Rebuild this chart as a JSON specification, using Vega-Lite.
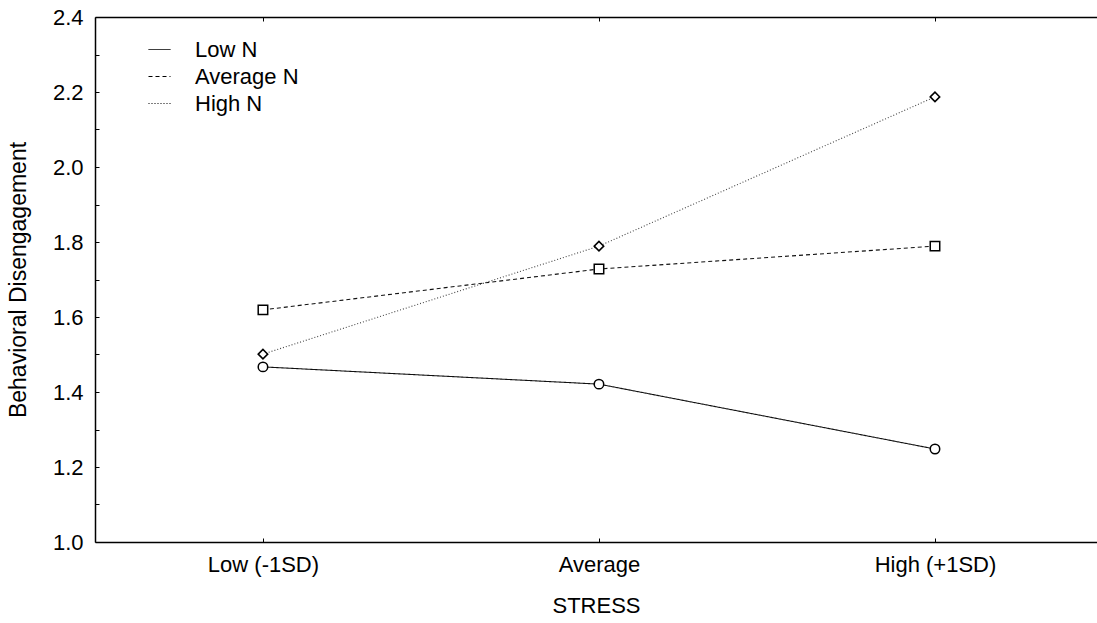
{
  "$schema": "https://vega.github.io/schema/vega-lite/v6.json",
  "width": 1002,
  "height": 525,
  "autosize": {"type": "none"},
  "padding": {"left": 95, "top": 17, "right": 0, "bottom": 81},
  "background": "white",
  "config": {
    "view": {"stroke": null},
    "font": "Liberation Sans",
    "axis": {
      "labelFont": "Liberation Sans",
      "labelFontSize": 22,
      "labelColor": "black",
      "titleFont": "Liberation Sans",
      "titleFontSize": 22,
      "titleFontWeight": "normal",
      "titleColor": "black",
      "domainColor": "black",
      "domainWidth": 1.5,
      "tickColor": "black",
      "tickWidth": 1,
      "grid": false
    },
    "legend": {
      "labelFont": "Liberation Sans",
      "labelFontSize": 22,
      "labelColor": "black"
    }
  },
  "data": {
    "values": [
      {"stress": "Low (-1SD)", "group": "Low N", "value": 1.467},
      {"stress": "Average", "group": "Low N", "value": 1.421},
      {"stress": "High (+1SD)", "group": "Low N", "value": 1.248},
      {"stress": "Low (-1SD)", "group": "Average N", "value": 1.619},
      {"stress": "Average", "group": "Average N", "value": 1.728},
      {"stress": "High (+1SD)", "group": "Average N", "value": 1.789},
      {"stress": "Low (-1SD)", "group": "High N", "value": 1.501},
      {"stress": "Average", "group": "High N", "value": 1.789},
      {"stress": "High (+1SD)", "group": "High N", "value": 2.187}
    ]
  },
  "layer": [
    {
      "mark": {"type": "line", "strokeWidth": 1.1},
      "encoding": {
        "x": {
          "field": "stress",
          "type": "ordinal",
          "sort": ["Low (-1SD)", "Average", "High (+1SD)"],
          "scale": {"type": "point", "padding": 0.491, "align": 0.509},
          "axis": {
            "orient": "bottom",
            "title": "STRESS",
            "labelAngle": 0,
            "tickSize": -4,
            "labelPadding": 16,
            "titlePadding": 20
          }
        },
        "y": {
          "field": "value",
          "type": "quantitative",
          "scale": {"domain": [1.0, 2.4], "nice": false, "zero": false},
          "axis": {
            "title": "Behavioral Disengagement",
            "titleFontSize": 23,
            "values": [1.0, 1.1, 1.2, 1.3, 1.4, 1.5, 1.6, 1.7, 1.8, 1.9, 2.0, 2.1, 2.2, 2.3, 2.4],
            "labelExpr": "round(datum.value*10) % 2 == 0 ? format(datum.value, '.1f') : ''",
            "tickSize": -4,
            "labelPadding": 16,
            "titlePadding": 22
          }
        },
        "detail": {"field": "group"},
        "strokeDash": {
          "field": "group",
          "type": "nominal",
          "scale": {"domain": ["Low N", "Average N", "High N"], "range": [[1, 0], [4, 3], [1, 2]]},
          "legend": {
            "title": null,
            "orient": "none",
            "legendX": 53,
            "legendY": 21,
            "padding": 0,
            "symbolType": "stroke",
            "symbolSize": 484,
            "symbolStrokeColor": "black",
            "symbolStrokeWidth": 1,
            "labelOffset": 24,
            "rowPadding": 4
          }
        },
        "color": {
          "field": "group",
          "type": "nominal",
          "scale": {"domain": ["High N", "Average N", "Low N"], "range": ["#444444", "#111111", "#111111"]},
          "legend": null
        }
      }
    },
    {
      "mark": {"type": "point", "filled": true, "fill": "white", "stroke": "black", "strokeWidth": 1.5, "size": 90, "opacity": 1},
      "encoding": {
        "x": {
          "field": "stress",
          "type": "ordinal",
          "sort": ["Low (-1SD)", "Average", "High (+1SD)"],
          "axis": {
            "orient": "top",
            "title": null,
            "labels": false,
            "tickSize": -4
          }
        },
        "y": {"field": "value", "type": "quantitative", "axis": null},
        "shape": {
          "field": "group",
          "type": "nominal",
          "scale": {"domain": ["Low N", "Average N", "High N"], "range": ["circle", "square", "diamond"]},
          "legend": null
        }
      }
    }
  ],
  "resolve": {"axis": {"x": "independent", "y": "independent"}, "scale": {"shape": "independent"}, "legend": {"shape": "independent", "strokeDash": "independent"}}
}
